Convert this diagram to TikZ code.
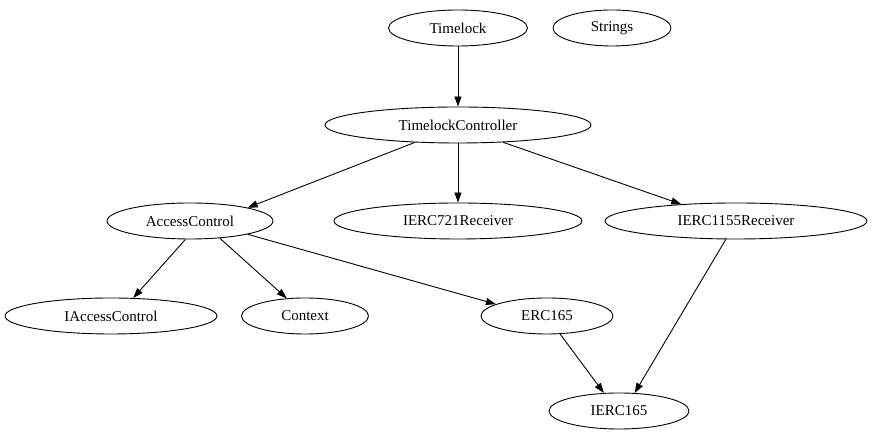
\documentclass[tikz,border=0pt]{standalone}
\usepackage{fontspec}
\setmainfont{Liberation Serif}
\usetikzlibrary{shapes.geometric,arrows.meta}
\begin{document}
\begin{tikzpicture}[x=1pt,y=1pt,
  nd/.style={ellipse,draw,line width=0.9pt,inner sep=0pt,minimum height=36pt,font=\fontsize{15pt}{17pt}\selectfont},
  ar/.style={line width=0.9pt,-{Triangle[length=10pt,width=7pt]}}]
\useasboundingbox (0,0) rectangle (876,443);
\node[nd,minimum width=139pt] (tl) at (458,415) {Timelock};
\node[nd,minimum width=118pt] (st) at (612,415) {Strings};
\node[nd,minimum width=266pt] (tc) at (458,318) {TimelockController};
\node[nd,minimum width=166pt] (ac) at (190,222) {AccessControl};
\node[nd,minimum width=248pt] (r721) at (458,222) {IERC721Receiver};
\node[nd,minimum width=262pt] (r1155) at (736,222) {IERC1155Receiver};
\node[nd,minimum width=212pt] (iac) at (111,127) {IAccessControl};
\node[nd,minimum width=127pt] (ctx) at (305,127) {Context};
\node[nd,minimum width=132pt] (erc) at (547,127) {ERC165};
\node[nd,minimum width=140pt] (ierc) at (619,32) {IERC165};
\draw[ar] (tl) -- (tc);
\draw[ar] (tc.202.7) -- (ac.13);
\draw[ar] (tc) -- (r721);
\draw[ar] (tc.-21) -- (r1155.163.5);
\draw[ar] (ac.256) -- (iac.39);
\draw[ar] (ac.-30) -- (ctx.136);
\draw[ar] (ac.-13) -- (erc.167.6);
\draw[ar] (erc.-54.7) -- (ierc.130.6);
\draw[ar] (r1155.241.6) -- (ierc.49.4);
\end{tikzpicture}
\end{document}
